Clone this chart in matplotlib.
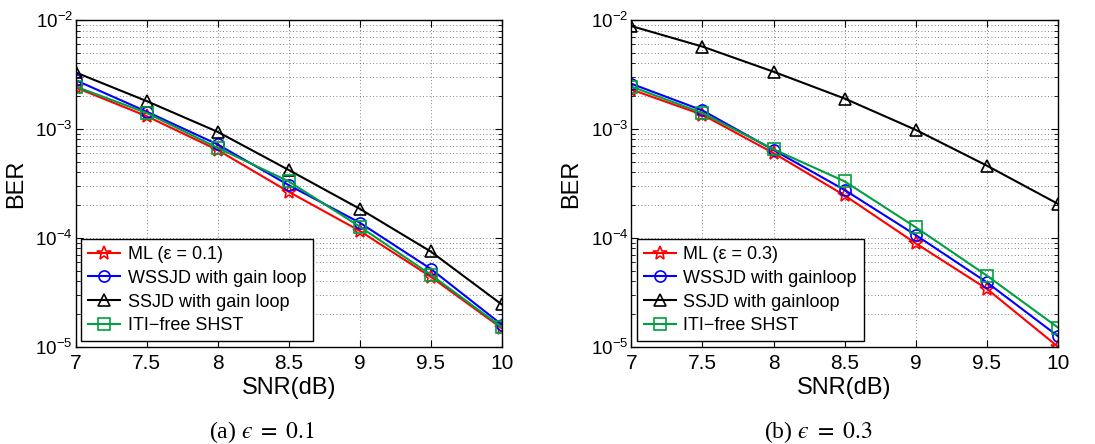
import numpy as np
import matplotlib.pyplot as plt
from matplotlib.ticker import LogLocator, NullFormatter, FixedLocator

plt.rcParams['font.family'] = ['Liberation Sans', 'DejaVu Sans']
plt.rcParams['mathtext.fontset'] = 'custom'
plt.rcParams['mathtext.rm'] = 'Liberation Sans'
plt.rcParams['mathtext.it'] = 'Liberation Sans:italic'

snr = [7, 7.5, 8, 8.5, 9, 9.5, 10]

# eps = 0.1
ml_a = [2.4e-3, 1.31e-3, 6.4e-4, 2.65e-4, 1.16e-4, 4.4e-5, 1.48e-5]
wssjd_a = [2.8e-3, 1.44e-3, 7.2e-4, 3.05e-4, 1.38e-4, 5.2e-5, 1.6e-5]
ssjd_a = [3.3e-3, 1.8e-3, 9.4e-4, 4.2e-4, 1.85e-4, 7.5e-5, 2.45e-5]
iti_a = [2.45e-3, 1.4e-3, 6.7e-4, 3.3e-4, 1.27e-4, 4.6e-5, 1.52e-5]

# eps = 0.3
ml_b = [2.3e-3, 1.35e-3, 6.0e-4, 2.45e-4, 8.9e-5, 3.4e-5, 1.0e-5]
wssjd_b = [2.6e-3, 1.48e-3, 6.4e-4, 2.75e-4, 1.06e-4, 3.9e-5, 1.25e-5]
ssjd_b = [8.8e-3, 5.7e-3, 3.35e-3, 1.9e-3, 9.8e-4, 4.6e-4, 2.05e-4]
iti_b = [2.45e-3, 1.4e-3, 6.5e-4, 3.3e-4, 1.25e-4, 4.5e-5, 1.5e-5]

labels_a = ['ML (ε = 0.1)', 'WSSJD with gain loop', 'SSJD with gain loop', 'ITI\u2212free SHST']
labels_b = ['ML (ε = 0.3)', 'WSSJD with gainloop', 'SSJD with gainloop', 'ITI\u2212free SHST']

green = '#00a040'
styles = [('r', '*'), ('b', 'o'), ('k', '^'), (green, 's')]

fig = plt.figure(figsize=(10.95, 4.44), dpi=100)
ax1 = fig.add_axes([0.0691, 0.219, 0.389, 0.736])
ax2 = fig.add_axes([0.5765, 0.219, 0.3897, 0.736])


def draw(ax, series, labels):
    for (c, m), y, lab in zip(styles, series, labels):
        ms = 10 if m == '*' else 8
        ax.semilogy(snr, y, color=c, marker=m, ms=ms, mfc='none', mec=c,
                    mew=1.2, lw=1.5, label=lab)
    ax.set_xlim(7, 10)
    ax.set_ylim(1e-5, 1e-2)
    ax.set_xticks(snr)
    ax.set_xticklabels(['7', '7.5', '8', '8.5', '9', '9.5', '10'], fontsize=15)
    ax.yaxis.set_major_locator(FixedLocator([1e-5, 1e-4, 1e-3, 1e-2]))
    ax.yaxis.set_minor_locator(LogLocator(base=10, subs=np.arange(2, 10)))
    ax.yaxis.set_minor_formatter(NullFormatter())
    ax.set_yticklabels([r'$10^{-5}$', r'$10^{-4}$', r'$10^{-3}$', r'$10^{-2}$'], fontsize=13.5)
    ax.grid(True, which='major', color='0.35', ls=(0, (1, 3)), lw=0.6)
    ax.grid(True, which='minor', axis='y', color='0.35', ls=(0, (1, 3)), lw=0.6)
    ax.tick_params(which='both', direction='in', top=True, right=True)
    ax.tick_params(which='major', length=5)
    ax.tick_params(which='minor', length=3)
    ax.tick_params(axis='x', pad=5)
    ax.tick_params(axis='y', pad=2)
    for s in ax.spines.values():
        s.set_linewidth(1.0)
    ax.set_xlabel('SNR(dB)', fontsize=17, labelpad=3)
    ax.set_ylabel('BER', fontsize=17, labelpad=6)
    leg = ax.legend(loc='lower left', fontsize=13, fancybox=False, framealpha=1,
                    edgecolor='k', borderaxespad=0.3, handlelength=1.8,
                    handletextpad=0.4, labelspacing=0.38, borderpad=0.38)
    leg.get_frame().set_linewidth(1.0)


draw(ax1, [ml_a, wssjd_a, ssjd_a, iti_a], labels_a)
draw(ax2, [ml_b, wssjd_b, ssjd_b, iti_b], labels_b)

fig.text(0.239, 0.027, '(a) $\u03f5\\ =\\ 0.1$', ha='center', va='center',
         fontsize=17, family='Liberation Serif', math_fontfamily='stix')
fig.text(0.747, 0.027, '(b) $\u03f5\\ =\\ 0.3$', ha='center', va='center',
         fontsize=17, family='Liberation Serif', math_fontfamily='stix')

fig.savefig('out.png', dpi=100)
